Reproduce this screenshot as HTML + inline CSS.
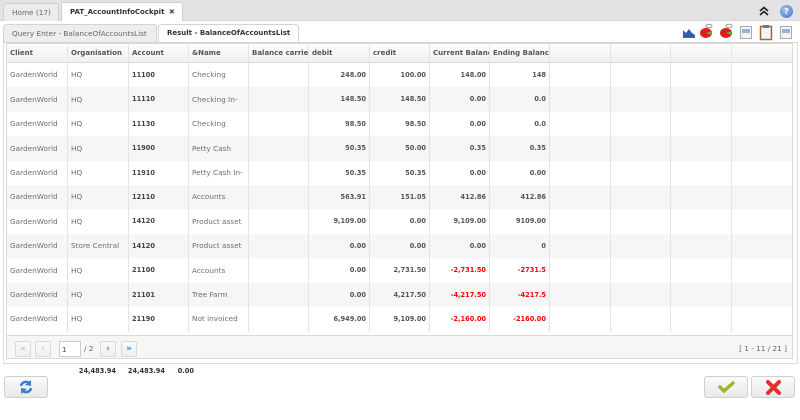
<!DOCTYPE html>
<html><head><meta charset="utf-8">
<style>
*{box-sizing:border-box;margin:0;padding:0}
body{width:800px;height:420px;background:#fff;position:relative;overflow:hidden;font-family:"DejaVu Sans","Liberation Sans",sans-serif;font-size:7.3px;color:#6e6e6e}
.abs{position:absolute}
.topbar{left:0;top:0;width:800px;height:21px;background:#e3e3e3;border-bottom:1px solid #d6d6d6}
.tab{position:absolute;top:3px;height:19px;border:1px solid #cfcfcf;border-bottom:none;border-radius:3px 3px 0 0;line-height:17px;padding-left:8px;white-space:nowrap}
.sub{position:absolute;top:24px;height:19px;border:1px solid #d3d3d3;border-bottom:none;border-radius:3px 3px 0 0;line-height:17px;padding-left:8px;white-space:nowrap}
.cell{position:absolute;overflow:hidden;white-space:nowrap;padding:0 4px}
.hd{font-weight:bold;color:#555;top:43px;height:20px;line-height:20px;font-size:7px}
.num{text-align:right;font-weight:bold;color:#555;font-size:6.6px;padding-right:3px}
.acc{font-weight:bold;color:#444;font-size:6.6px}
.red{color:#f00}
.row{position:absolute;left:7px;width:785px}
.vl{position:absolute;top:43px;width:1px;height:289px;background:#e4e4e4}
.pbtn{position:absolute;top:341px;width:16px;height:16px;border:1px solid #d9d9d9;border-radius:2px;background:linear-gradient(#fafafa,#efefef);text-align:center;line-height:14px;font-size:9px}
.btn{position:absolute;top:376px;height:22px;border:1px solid #cfcfcf;border-radius:3px;background:linear-gradient(#fbfbfb,#e9e9e9)}
</style></head><body>

<div class="abs topbar"></div>
<div class="tab" style="left:3px;width:56px;background:#ececec;color:#666">Home (17)</div>
<div class="tab" style="left:61px;top:2px;height:20px;width:122px;background:#fff;color:#333;font-weight:bold;line-height:19px;font-size:7px">PAT_AccountInfoCockpit <span style="color:#555;margin-left:2px">&#x2716;</span></div>
<!-- top-right icons -->
<svg class="abs" style="left:758px;top:5px" width="12" height="12">
 <path d="M2 6 L6 2.5 L10 6 M2 10 L6 6.5 L10 10" stroke="#222" stroke-width="1.6" fill="none"/>
</svg>
<div class="abs" style="left:780px;top:5px;width:13px;height:13px;border-radius:50%;background:radial-gradient(circle at 40% 35%,#9cc3ee,#3d74c4);color:#fff;font-size:8px;font-weight:bold;text-align:center;line-height:13px">?</div>

<div class="abs" style="left:0;top:21px;width:800px;height:1px;background:#fff"></div>
<div class="sub" style="left:3px;width:154px;background:#eeeeee;color:#666">Query Enter - BalanceOfAccountsList</div>
<div class="sub" style="left:158px;width:141px;background:#fff;color:#333;font-weight:bold;font-size:7px">Result - BalanceOfAccountsList</div>

<!-- toolbar icons -->
<svg class="abs" style="left:680px;top:22px" width="116" height="20">
 <path d="M3 15 L3 8 L6 11 L9 7 L12 11 L15 13 L15 15 Z" fill="#2f5fa6"/>
 <line x1="3" y1="15.5" x2="15" y2="15.5" stroke="#666"/>
 <ellipse cx="26" cy="11" rx="6" ry="5" fill="#d9201d"/><path d="M26 11 L32 9 L31 13 Z" fill="#6ab02e"/><ellipse cx="29" cy="4" rx="3" ry="1.8" fill="none" stroke="#999"/>
 <ellipse cx="46" cy="11" rx="6" ry="5" fill="#d9201d"/><path d="M46 11 L52 9 L51 13 Z" fill="#6ab02e"/><ellipse cx="49" cy="4" rx="3" ry="1.8" fill="none" stroke="#999"/>
 <rect x="60.5" y="4.5" width="11" height="12" fill="#f2f2f2" stroke="#aaa"/><rect x="62" y="7" width="8" height="4" fill="#8fb3dc"/>
 <rect x="80.5" y="4.5" width="11" height="13" fill="#f4f4f4" stroke="#9a6a2a" stroke-width="1.5"/><rect x="83" y="3" width="6" height="3" fill="#777"/>
 <rect x="100.5" y="4.5" width="11" height="12" fill="#f2f2f2" stroke="#aaa"/><rect x="102" y="7" width="8" height="4" fill="#8fb3dc"/>
</svg>

<!-- outer container -->
<div class="abs" style="left:3px;top:42px;width:795px;height:322px;border:1px solid #dcdcdc;border-top:1px solid #d3d3d3"></div>
<!-- grid border -->
<div class="abs" style="left:6px;top:43px;width:787px;height:316px;border:1px solid #d9d9d9;background:#fff"></div>
<!-- header bg -->
<div class="abs" style="left:7px;top:44px;width:785px;height:19px;background:linear-gradient(#fdfdfd,#f0f0f0);border-bottom:1px solid #dadada"></div>

<!-- rows -->
<div class="row" style="top:87px;height:25px;background:#f6f6f6"></div>
<div class="row" style="top:136px;height:25px;background:#f6f6f6"></div>
<div class="row" style="top:185px;height:24px;background:#f6f6f6"></div>
<div class="row" style="top:234px;height:24px;background:#f6f6f6"></div>
<div class="row" style="top:283px;height:24px;background:#f6f6f6"></div>

<!-- vertical lines -->
<div class="vl" style="left:67px"></div><div class="vl" style="left:128px"></div><div class="vl" style="left:188px"></div><div class="vl" style="left:248px"></div><div class="vl" style="left:308px"></div><div class="vl" style="left:369px"></div><div class="vl" style="left:429px"></div><div class="vl" style="left:489px"></div><div class="vl" style="left:549px"></div><div class="vl" style="left:610px"></div><div class="vl" style="left:670px"></div><div class="vl" style="left:731px"></div>

<!-- header text -->
<div class="cell hd" style="left:6px;width:61px">Client</div>
<div class="cell hd" style="left:67px;width:61px">Organisation</div>
<div class="cell hd" style="left:128px;width:60px">Account</div>
<div class="cell hd" style="left:188px;width:60px">&amp;Name</div>
<div class="cell hd" style="left:248px;width:60px">Balance carried</div>
<div class="cell hd" style="left:308px;width:61px">debit</div>
<div class="cell hd" style="left:369px;width:60px">credit</div>
<div class="cell hd" style="left:429px;width:60px">Current Balance</div>
<div class="cell hd" style="left:489px;width:60px">Ending Balance</div>

<div style="position:absolute;left:0;top:0">
<!-- row1 -->
<div class="cell" style="left:6px;top:63px;width:61px;line-height:24px">GardenWorld</div><div class="cell" style="left:67px;top:63px;width:61px;line-height:24px">HQ</div><div class="cell acc" style="left:128px;top:63px;width:60px;line-height:24px">11100</div><div class="cell" style="left:188px;top:63px;width:60px;line-height:24px">Checking</div><div class="cell num" style="left:308px;top:63px;width:61px;line-height:24px">248.00</div><div class="cell num" style="left:369px;top:63px;width:60px;line-height:24px">100.00</div><div class="cell num" style="left:429px;top:63px;width:60px;line-height:24px">148.00</div><div class="cell num" style="left:489px;top:63px;width:60px;line-height:24px">148</div>
<!-- row2 -->
<div class="cell" style="left:6px;top:87px;width:61px;line-height:25px">GardenWorld</div><div class="cell" style="left:67px;top:87px;width:61px;line-height:25px">HQ</div><div class="cell acc" style="left:128px;top:87px;width:60px;line-height:25px">11110</div><div class="cell" style="left:188px;top:87px;width:60px;line-height:25px">Checking In-</div><div class="cell num" style="left:308px;top:87px;width:61px;line-height:25px">148.50</div><div class="cell num" style="left:369px;top:87px;width:60px;line-height:25px">148.50</div><div class="cell num" style="left:429px;top:87px;width:60px;line-height:25px">0.00</div><div class="cell num" style="left:489px;top:87px;width:60px;line-height:25px">0.0</div>
<!-- row3 -->
<div class="cell" style="left:6px;top:112px;width:61px;line-height:24px">GardenWorld</div><div class="cell" style="left:67px;top:112px;width:61px;line-height:24px">HQ</div><div class="cell acc" style="left:128px;top:112px;width:60px;line-height:24px">11130</div><div class="cell" style="left:188px;top:112px;width:60px;line-height:24px">Checking</div><div class="cell num" style="left:308px;top:112px;width:61px;line-height:24px">98.50</div><div class="cell num" style="left:369px;top:112px;width:60px;line-height:24px">98.50</div><div class="cell num" style="left:429px;top:112px;width:60px;line-height:24px">0.00</div><div class="cell num" style="left:489px;top:112px;width:60px;line-height:24px">0.0</div>
<!-- row4 -->
<div class="cell" style="left:6px;top:136px;width:61px;line-height:25px">GardenWorld</div><div class="cell" style="left:67px;top:136px;width:61px;line-height:25px">HQ</div><div class="cell acc" style="left:128px;top:136px;width:60px;line-height:25px">11900</div><div class="cell" style="left:188px;top:136px;width:60px;line-height:25px">Petty Cash</div><div class="cell num" style="left:308px;top:136px;width:61px;line-height:25px">50.35</div><div class="cell num" style="left:369px;top:136px;width:60px;line-height:25px">50.00</div><div class="cell num" style="left:429px;top:136px;width:60px;line-height:25px">0.35</div><div class="cell num" style="left:489px;top:136px;width:60px;line-height:25px">0.35</div>
<!-- row5 -->
<div class="cell" style="left:6px;top:161px;width:61px;line-height:24px">GardenWorld</div><div class="cell" style="left:67px;top:161px;width:61px;line-height:24px">HQ</div><div class="cell acc" style="left:128px;top:161px;width:60px;line-height:24px">11910</div><div class="cell" style="left:188px;top:161px;width:60px;line-height:24px">Petty Cash In-</div><div class="cell num" style="left:308px;top:161px;width:61px;line-height:24px">50.35</div><div class="cell num" style="left:369px;top:161px;width:60px;line-height:24px">50.35</div><div class="cell num" style="left:429px;top:161px;width:60px;line-height:24px">0.00</div><div class="cell num" style="left:489px;top:161px;width:60px;line-height:24px">0.00</div>
<!-- row6 -->
<div class="cell" style="left:6px;top:185px;width:61px;line-height:24px">GardenWorld</div><div class="cell" style="left:67px;top:185px;width:61px;line-height:24px">HQ</div><div class="cell acc" style="left:128px;top:185px;width:60px;line-height:24px">12110</div><div class="cell" style="left:188px;top:185px;width:60px;line-height:24px">Accounts</div><div class="cell num" style="left:308px;top:185px;width:61px;line-height:24px">563.91</div><div class="cell num" style="left:369px;top:185px;width:60px;line-height:24px">151.05</div><div class="cell num" style="left:429px;top:185px;width:60px;line-height:24px">412.86</div><div class="cell num" style="left:489px;top:185px;width:60px;line-height:24px">412.86</div>
<!-- row7 -->
<div class="cell" style="left:6px;top:209px;width:61px;line-height:25px">GardenWorld</div><div class="cell" style="left:67px;top:209px;width:61px;line-height:25px">HQ</div><div class="cell acc" style="left:128px;top:209px;width:60px;line-height:25px">14120</div><div class="cell" style="left:188px;top:209px;width:60px;line-height:25px">Product asset</div><div class="cell num" style="left:308px;top:209px;width:61px;line-height:25px">9,109.00</div><div class="cell num" style="left:369px;top:209px;width:60px;line-height:25px">0.00</div><div class="cell num" style="left:429px;top:209px;width:60px;line-height:25px">9,109.00</div><div class="cell num" style="left:489px;top:209px;width:60px;line-height:25px">9109.00</div>
<!-- row8 -->
<div class="cell" style="left:6px;top:234px;width:61px;line-height:24px">GardenWorld</div><div class="cell" style="left:67px;top:234px;width:61px;line-height:24px">Store Central</div><div class="cell acc" style="left:128px;top:234px;width:60px;line-height:24px">14120</div><div class="cell" style="left:188px;top:234px;width:60px;line-height:24px">Product asset</div><div class="cell num" style="left:308px;top:234px;width:61px;line-height:24px">0.00</div><div class="cell num" style="left:369px;top:234px;width:60px;line-height:24px">0.00</div><div class="cell num" style="left:429px;top:234px;width:60px;line-height:24px">0.00</div><div class="cell num" style="left:489px;top:234px;width:60px;line-height:24px">0</div>
<!-- row9 -->
<div class="cell" style="left:6px;top:258px;width:61px;line-height:25px">GardenWorld</div><div class="cell" style="left:67px;top:258px;width:61px;line-height:25px">HQ</div><div class="cell acc" style="left:128px;top:258px;width:60px;line-height:25px">21100</div><div class="cell" style="left:188px;top:258px;width:60px;line-height:25px">Accounts</div><div class="cell num" style="left:308px;top:258px;width:61px;line-height:25px">0.00</div><div class="cell num" style="left:369px;top:258px;width:60px;line-height:25px">2,731.50</div><div class="cell num red" style="left:429px;top:258px;width:60px;line-height:25px">-2,731.50</div><div class="cell num red" style="left:489px;top:258px;width:60px;line-height:25px">-2731.5</div>
<!-- row10 -->
<div class="cell" style="left:6px;top:283px;width:61px;line-height:24px">GardenWorld</div><div class="cell" style="left:67px;top:283px;width:61px;line-height:24px">HQ</div><div class="cell acc" style="left:128px;top:283px;width:60px;line-height:24px">21101</div><div class="cell" style="left:188px;top:283px;width:60px;line-height:24px">Tree Farm</div><div class="cell num" style="left:308px;top:283px;width:61px;line-height:24px">0.00</div><div class="cell num" style="left:369px;top:283px;width:60px;line-height:24px">4,217.50</div><div class="cell num red" style="left:429px;top:283px;width:60px;line-height:24px">-4,217.50</div><div class="cell num red" style="left:489px;top:283px;width:60px;line-height:24px">-4217.5</div>
<!-- row11 -->
<div class="cell" style="left:6px;top:307px;width:61px;line-height:24px">GardenWorld</div><div class="cell" style="left:67px;top:307px;width:61px;line-height:24px">HQ</div><div class="cell acc" style="left:128px;top:307px;width:60px;line-height:24px">21190</div><div class="cell" style="left:188px;top:307px;width:60px;line-height:24px">Not invoiced</div><div class="cell num" style="left:308px;top:307px;width:61px;line-height:24px">6,949.00</div><div class="cell num" style="left:369px;top:307px;width:60px;line-height:24px">9,109.00</div><div class="cell num red" style="left:429px;top:307px;width:60px;line-height:24px">-2,160.00</div><div class="cell num red" style="left:489px;top:307px;width:60px;line-height:24px">-2160.00</div>
</div>

<!-- pagination -->
<div class="abs" style="left:7px;top:335px;width:785px;height:23px;background:#f6f6f6;border-top:1px solid #dcdcdc"></div>
<div class="pbtn" style="left:15px;color:#bbb">&#x00AB;</div>
<div class="pbtn" style="left:35px;color:#bbb">&#x2039;</div>
<div class="abs" style="left:59px;top:341px;width:22px;height:16px;border:1px solid #ccc;background:#fff;font-size:7px;color:#444;line-height:16px;padding-left:2px">1</div>
<div class="abs" style="left:84px;top:341px;line-height:16px;color:#666">/ 2</div>
<div class="pbtn" style="left:100px;color:#2a8ad4;font-weight:bold">&#x203A;</div>
<div class="pbtn" style="left:121px;color:#2a8ad4;font-weight:bold">&#x00BB;</div>
<div class="abs" style="left:720px;top:341px;width:67px;text-align:right;line-height:16px;color:#666">[ 1 - 11 / 21 ]</div>

<!-- totals -->
<div class="abs num" style="left:60px;top:366px;width:59px;line-height:10px;color:#333">24,483.94</div>
<div class="abs num" style="left:110px;top:366px;width:58px;line-height:10px;color:#333">24,483.94</div>
<div class="abs num" style="left:170px;top:366px;width:27px;line-height:10px;color:#333">0.00</div>

<!-- buttons -->
<div class="btn" style="left:4px;width:44px">
 <svg width="42" height="20" style="position:absolute;left:0;top:0">
  <path d="M16 9 A5 5 0 0 1 25 7" stroke="#3b7fd0" stroke-width="2.5" fill="none"/>
  <path d="M26 3 L26 9 L20 8 Z" fill="#3b7fd0"/>
  <path d="M26 11 A5 5 0 0 1 17 13" stroke="#3b7fd0" stroke-width="2.5" fill="none"/>
  <path d="M16 17 L16 11 L22 12 Z" fill="#3b7fd0"/>
 </svg>
</div>
<div class="btn" style="left:704px;width:44px">
 <svg width="42" height="20" style="position:absolute;left:0;top:0"><path d="M15 10 L19 14 L28 6" stroke="#9bb528" stroke-width="3.5" fill="none" stroke-linecap="round"/></svg>
</div>
<div class="btn" style="left:751px;width:44px">
 <svg width="42" height="20" style="position:absolute;left:0;top:0"><path d="M16 5 L27 16 M27 5 L16 16" stroke="#e03030" stroke-width="4" stroke-linecap="round"/></svg>
</div>
</body></html>
